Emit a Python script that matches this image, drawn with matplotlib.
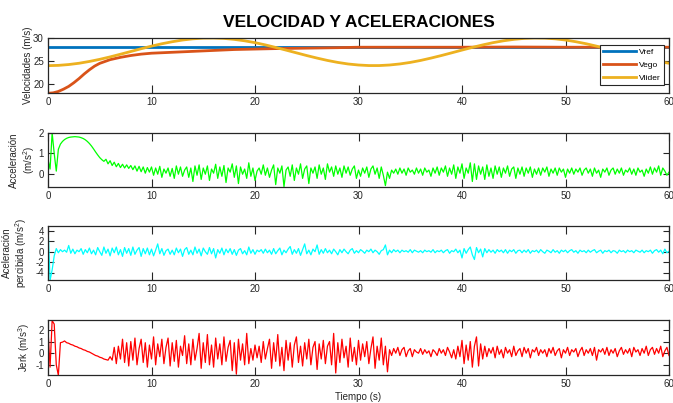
import numpy as np
import matplotlib
matplotlib.use('Agg')
import matplotlib.pyplot as plt

plt.rcParams['font.family'] = ['Liberation Sans', 'DejaVu Sans']
plt.rcParams['mathtext.fontset'] = 'custom'
plt.rcParams['mathtext.rm'] = 'Liberation Sans'
plt.rcParams['axes.unicode_minus'] = False

INK = '#262626'
C_REF = '#0072BD'
C_EGO = '#D95319'
C_LID = '#EDB120'

# --- velocities --------------------------------------------------------
vref_t = [0, 60]
vref = [28.0, 28.0]

vego_t = [0, 0.5, 1, 1.5, 2, 2.5, 3, 3.5, 4, 4.5, 5, 5.5, 6, 7, 8, 9, 10,
          12, 14, 16, 18, 20, 22, 25, 28, 30, 35, 40, 45, 50, 55, 60]
vego = [18.0, 18.1, 18.4, 18.9, 19.5, 20.3, 21.2, 22.2, 23.1, 23.9, 24.5,
        24.9, 25.3, 25.8, 26.2, 26.5, 26.7, 26.9, 27.1, 27.3, 27.5, 27.6,
        27.7, 27.8, 27.9, 28.0, 28.0, 28.0, 28.05, 28.0, 28.0, 28.0]

vlider_t = list(range(0, 61))
vlider = [24.00, 24.06, 24.24, 24.52, 24.91, 25.37, 25.90, 26.48, 27.07, 27.67,
          28.24, 28.75, 29.19, 29.56, 29.82, 29.97, 29.99, 29.91, 29.70, 29.39,
          28.99, 28.50, 27.95, 27.37, 26.78, 26.19, 25.64, 25.13, 24.70, 24.36,
          24.14, 24.02, 24.02, 24.14, 24.37, 24.70, 25.13, 25.64, 26.19, 26.78,
          27.38, 27.96, 28.50, 28.99, 29.39, 29.70, 29.91, 30.00, 29.97, 29.82,
          29.56, 29.19, 28.75, 28.23, 27.67, 27.07, 26.48, 25.90, 25.37, 24.91,
          24.52]

# --- sampled signals (every 0.2 s) -------------------------------------
t_sig = np.arange(0, 60.001, 0.2)

acel = [
    0.70, 0.25, 2.00, 1.00, 0.15, 1.20, 1.45, 1.58, 1.67, 1.73,
    1.77, 1.79, 1.80, 1.81, 1.80, 1.79, 1.76, 1.72, 1.66, 1.58,
    1.48, 1.36, 1.22, 1.07, 0.93, 0.80, 0.70, 0.62, 0.72, 0.50,
    0.65, 0.42, 0.58, 0.36, 0.52, 0.32, 0.48, 0.30, 0.45, 0.28,
    0.42, 0.22, 0.40, 0.15, 0.38, 0.12, 0.35, 0.05, 0.32, 0.10,
    0.35, -0.05, 0.30, 0.00, 0.38, -0.15, 0.25, 0.05, 0.30, -0.10,
    0.28, -0.20, 0.40, 0.00, 0.35, -0.10, 0.20, 0.35, -0.15, 0.30,
    -0.35, 0.40, -0.05, 0.45, -0.25, 0.30, 0.00, 0.40, -0.30, 0.25,
    0.05, 0.48, -0.20, 0.35, -0.10, 0.42, -0.40, 0.30, 0.10, 0.50,
    -0.15, 0.40, -0.45, 0.35, 0.00, 0.25, -0.20, 0.55, -0.10, 0.30,
    -0.30, 0.15, 0.30, 0.00, 0.45, -0.05, 0.30, -0.15, 0.20, 0.45,
    -0.50, 0.30, 0.05, 0.40, -0.60, 0.20, 0.35, -0.10, 0.45, -0.30,
    0.30, 0.00, 0.50, -0.20, 0.25, 0.40, -0.45, 0.30, 0.05, 0.35,
    -0.20, 0.45, 0.00, 0.30, -0.25, 0.50, 0.10, 0.35, -0.10, 0.40,
    0.00, 0.30, -0.15, 0.40, 0.05, 0.35, -0.05, 0.25, 0.40, -0.20,
    0.20, -0.10, 0.30, 0.05, 0.35, -0.15, 0.25, 0.40, 0.00, 0.30,
    -0.20, 0.35, -0.05, -0.55, 0.10, -0.20, 0.20, 0.05, 0.25, 0.00,
    0.30, 0.05, 0.25, -0.05, 0.30, 0.10, 0.20, 0.00, 0.30, 0.05,
    0.25, -0.05, 0.30, 0.10, 0.20, -0.10, 0.30, 0.05, 0.35, -0.05,
    0.30, 0.10, 0.40, -0.10, 0.30, 0.00, 0.45, -0.20, 0.35, 0.05,
    0.50, -0.20, 0.30, 0.05, 0.55, -0.35, 0.50, -0.25, 0.40, 0.00,
    0.35, -0.25, 0.45, -0.10, 0.30, -0.20, 0.40, 0.00, 0.35, -0.15,
    0.30, 0.05, 0.40, -0.10, 0.25, 0.35, -0.20, 0.30, 0.00, 0.35,
    -0.10, 0.30, 0.05, 0.35, -0.15, 0.25, 0.00, 0.30, -0.05, 0.30,
    0.10, 0.35, -0.10, 0.25, 0.05, 0.30, -0.05, 0.30, 0.10, 0.25,
    -0.15, 0.25, 0.05, 0.30, 0.00, 0.25, 0.10, 0.30, -0.05, 0.20,
    0.30, 0.05, 0.25, -0.10, 0.30, 0.05, 0.20, -0.15, 0.25, 0.10,
    0.30, -0.05, 0.20, 0.30, 0.00, 0.25, 0.05, 0.30, -0.05, 0.20,
    0.10, 0.30, 0.00, 0.25, -0.05, 0.30, 0.10, 0.20, -0.10, 0.25,
    0.05, 0.35, 0.00, 0.30, 0.10, 0.40, -0.05, 0.30, 0.15, -0.05,
    0.10]

acel_perc = [
    5.0, -5.5, -3.5, -0.8, 0.6, -0.2, 0.4, 0.0, 0.3, -0.1,
    1.2, -0.3, 0.5, -0.4, 0.3, 0.0, 0.6, -0.5, 0.4, -0.2,
    0.7, -0.4, 0.3, -0.6, 0.8, 0.0, -0.7, 0.9, -0.3, 0.5,
    -0.8, 0.7, -0.2, 0.9, -0.6, 0.4, -0.9, 0.8, -0.3, 0.6,
    -0.7, 0.9, -0.5, 0.3, 0.8, -0.9, 0.6, -0.4, 0.7, -0.6,
    0.5, -0.8, 0.3, 1.5, -0.4, 0.6, -0.7, 0.2, 0.5, -0.5,
    0.3, -0.6, 0.7, -0.2, 0.5, -0.9, 0.4, 0.8, -0.5, 0.3,
    -0.6, 0.9, -0.3, 0.5, -0.8, 0.7, 0.0, -0.5, 0.8, -0.4,
    0.6, -1.2, 0.4, -0.3, 0.7, -0.6, 0.5, -0.2, 0.6, -0.5,
    0.4, -0.7, 0.3, 0.6, -0.4, 0.2, -0.6, 0.9, -0.3, 0.4,
    -0.5, 0.3, 0.0, 0.4, -0.3, 0.5, -0.2, 0.3, -0.5, 0.6,
    -0.4, 0.2, 0.7, -0.6, 0.3, -0.2, 0.5, 1.0, -0.5, 0.4,
    -0.3, 0.6, -0.7, 0.4, 1.5, -0.4, 0.3, -0.6, 0.5, 0.0,
    1.3, -0.5, 0.4, -0.3, 0.6, -0.2, 0.3, -0.4, 0.5, 0.0,
    -0.6, 0.4, -0.2, 0.5, 0.0, -0.4, 0.3, 0.6, -0.3, 0.2,
    -0.2, 0.4, 0.1, -0.3, 0.3, 0.0, 0.5, -0.2, 0.3, 0.0,
    -0.5, 0.2, 0.4, 1.3, -0.6, 0.3, -0.2, 0.4, 0.0, 0.3,
    -0.2, 0.3, 0.0, 0.2, -0.1, 0.4, -0.2, 0.3, 0.1, -0.1,
    0.2, -0.2, 0.3, 0.0, 0.2, -0.1, 0.4, -0.2, 0.2, 0.0,
    0.3, -0.2, 0.2, 0.4, -0.3, 0.2, 0.0, 0.5, -0.2, 0.3,
    -1.2, 0.6, -0.3, 0.4, 0.9, -0.6, -1.5, 0.8, -0.2, 0.5,
    -1.0, 0.6, -0.2, 0.4, -0.1, 0.3, -0.3, 0.4, 0.0, 0.3,
    -0.2, 0.4, -0.3, 0.3, 0.0, 0.4, -0.3, 0.2, 0.3, -0.2,
    0.3, -0.1, 0.4, -0.3, 0.2, 0.0, 0.3, -0.2, 0.4, 0.0,
    -0.3, 0.3, 0.1, -0.2, 0.4, -0.1, 0.2, -0.3, 0.3, 0.0,
    0.3, -0.2, 0.2, 0.4, -0.1, 0.2, -0.3, 0.3, 0.0, 0.2,
    -0.2, 0.3, -0.1, 0.2, 0.4, -0.2, 0.1, 0.3, -0.3, 0.2,
    0.0, 0.3, -0.2, 0.2, 0.1, -0.3, 0.3, 0.0, 0.2, -0.2,
    0.3, 0.0, 0.2, -0.2, 0.3, 0.1, -0.1, 0.3, -0.2, 0.2,
    0.0, 0.3, -0.3, 0.2, 0.4, -0.1, 0.3, -0.4, 0.5, -0.2,
    0.1]

jerk = [
    2.0, -1.2, 2.8, 2.5, -1.0, -1.9, 0.9, 0.95, 1.05, 0.9,
    0.85, 0.75, 0.7, 0.6, 0.55, 0.45, 0.4, 0.3, 0.25, 0.15,
    0.1, 0.0, -0.1, -0.2, -0.25, -0.35, -0.4, -0.5, -0.55, -0.6,
    -0.3, -0.6, 0.5, -0.9, 0.6, -0.5, 1.2, -0.8, 0.9, -1.1,
    1.0, -0.6, 1.3, -1.0, 0.4, 1.2, -0.8, 0.9, -1.2, 0.7,
    -0.5, 1.4, -1.0, 0.8, -0.3, 1.2, -0.9, 0.5, 1.3, -1.1,
    0.9, -0.7, 1.1, -1.2, 0.6, -0.2, 1.5, -0.9, 0.8, -1.0,
    1.2, -0.6, 0.4, 1.7, -1.3, 0.9, -0.8, 1.6, -1.0, 0.7,
    -1.2, 1.3, -0.5, 0.8, -1.0, 1.4, -0.7, 0.5, 1.1, -1.5,
    0.9, -1.8, 1.2, -0.6, 0.8, -1.0, 1.7, -0.9, 0.4, -0.6,
    0.7, -0.4, 0.6, -0.8, 1.0, -0.5, 0.4, 1.2, -1.3, 0.9,
    -0.7, 1.6, -1.1, 0.5, -1.5, 1.1, -0.6, 0.9, -1.2, 0.7,
    1.4, -0.8, 0.6, -1.1, 0.9, -0.5, 1.2, -1.0, 0.5, 1.0,
    -1.4, 0.8, -0.5, 1.1, -0.9, 0.6, 1.0, -1.0, 1.7, -1.7,
    0.9, -0.8, 1.2, -0.4, 0.6, -1.2, 1.3, -0.7, 0.5, -1.0,
    1.1, -0.6, 0.8, -0.3, 1.0, -0.9, 0.4, 1.4, -1.3, 0.6,
    -0.6, 1.3, -1.0, 0.6, -1.6, 0.3, -0.2, 0.4, 0.0, 0.5,
    -0.2, 0.3, 0.5, -0.3, 0.2, 0.4, -0.3, 0.3, 0.1, 0.0,
    0.4, -0.1, 0.3, 0.0, 0.2, -0.3, 0.3, 0.1, -0.2, 0.4,
    0.0, 0.3, -0.2, 0.5, 0.1, -0.4, 0.3, -0.5, 0.6, -0.3,
    1.1, -0.9, 0.7, -0.6, 1.0, -1.2, 0.6, 1.4, -1.1, 0.8,
    -0.5, 0.6, -0.3, 0.4, 0.0, 0.5, -0.4, 0.6, -0.1, 0.3,
    -0.4, 0.5, 0.0, 0.3, -0.3, 0.6, -0.2, 0.2, 0.4, -0.3,
    0.5, 0.0, 0.4, -0.4, 0.3, 0.1, 0.5, -0.2, 0.3, 0.0,
    0.3, -0.3, 0.4, 0.0, 0.5, -0.2, 0.2, 0.4, -0.4, 0.3,
    0.0, 0.5, -0.2, 0.3, 0.1, 0.4, -0.3, 0.2, 0.5, -0.2,
    0.3, 0.0, 0.4, -0.2, 0.5, -0.6, 0.3, 0.1, 0.4, -0.1,
    0.5, -0.2, 0.3, 0.0, 0.4, -0.3, 0.2, 0.5, -0.1, 0.3,
    0.0, 0.4, -0.3, 0.5, 0.1, 0.3, -0.2, 0.4, 0.0, 0.6,
    -0.2, 0.3, 0.5, -0.1, 0.4, 0.0, 0.6, -0.3, 0.2, 0.5,
    -0.2]

fig = plt.figure(figsize=(6.73, 4.03), dpi=100)
fig.patch.set_facecolor('white')

W, H = 673, 403


def make_axes(top_px, bot_px):
    return fig.add_axes([48 / W, 1 - bot_px / H, 621 / W, (bot_px - top_px) / H])


def style(ax, yticks, ylim, label, lab_x):
    ax.set_xlim(0, 60)
    ax.set_ylim(*ylim)
    ax.set_xticks(range(0, 61, 10))
    ax.set_yticks(yticks)
    ax.tick_params(direction='in', top=True, right=True, length=4.5, width=0.8,
                   colors=INK, labelsize=7, pad=3)
    ax.tick_params(axis='x', length=6)
    for s in ax.spines.values():
        s.set_color(INK)
        s.set_linewidth(0.9)
    ax.set_ylabel(label, fontsize=7, color=INK, linespacing=1.15)
    ax.yaxis.set_label_coords(lab_x, 0.5)


ax1 = make_axes(38, 93.3)
ax1.plot(vref_t, vref, color=C_REF, lw=2.0, label='Vref')
ax1.plot(vego_t, vego, color=C_EGO, lw=2.0, label='Vego')
ax1.plot(vlider_t, vlider, color=C_LID, lw=2.0, label='Vlider')
style(ax1, [20, 25, 30], (18, 30), 'Velocidades (m/s)', -0.024)
leg = ax1.legend(loc='upper right', bbox_to_anchor=(0.9985, 0.95), fontsize=6,
                 handlelength=4.0, handletextpad=0.3, borderpad=0.4,
                 labelspacing=0.6, fancybox=False, framealpha=1)
leg.get_frame().set_edgecolor(INK)
leg.get_frame().set_linewidth(0.8)
ax1.set_title('VELOCIDAD Y ACELERACIONES', fontsize=12.5, fontweight='bold',
              color='black', pad=8)

ax2 = make_axes(132.7, 187.3)
ax2.plot(t_sig, acel, color='#00FF00', lw=0.9)
style(ax2, [0, 1, 2], (-0.63, 2.0), 'Acceleración\n(m/s$^2$)', -0.018)

ax3 = make_axes(225.7, 280.3)
ax3.plot(t_sig, acel_perc, color='#00FFFF', lw=0.9)
style(ax3, [-4, -2, 0, 2, 4], (-5.5, 5.0), 'Aceleración\npercibida (m/s$^2$)', -0.03)

ax4 = make_axes(320, 375.3)
ax4.plot(t_sig, jerk, color='#FF0000', lw=0.9)
style(ax4, [-1, 0, 1, 2], (-1.9, 2.85), 'Jerk (m/s$^3$)', -0.026)
ax4.set_xlabel('Tiempo (s)', fontsize=7, color=INK, labelpad=2)

fig.savefig('out.png', dpi=100, facecolor='white')
